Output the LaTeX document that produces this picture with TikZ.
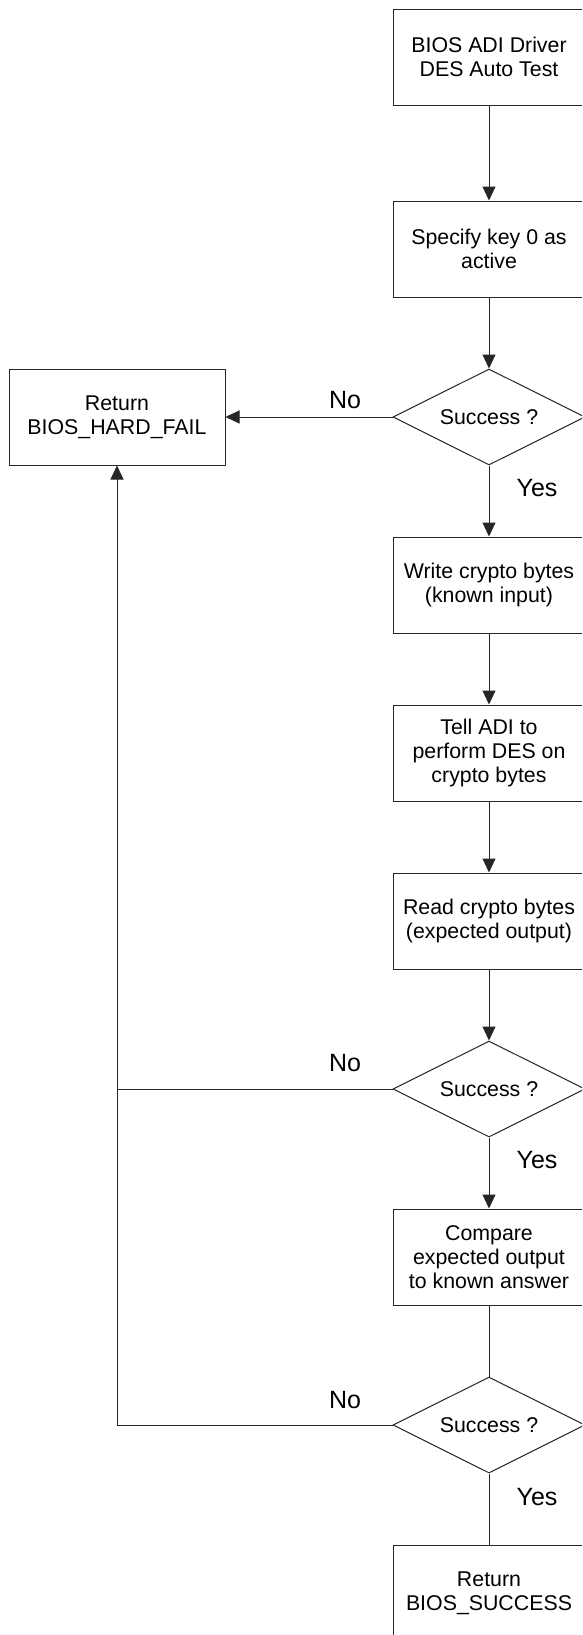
\documentclass[tikz,border=0pt]{standalone}
\usepackage{fontspec}
\setmainfont{Liberation Sans}
\usetikzlibrary{shapes.geometric,arrows.meta}

\tikzset{
  stepbox/.style={draw=black!85, line width=0.75pt, rectangle, inner sep=0pt,
    minimum width=144pt, minimum height=72pt, align=center,
    font=\fontsize{16}{18}\selectfont},
  decision/.style={draw=black!85, line width=0.75pt, diamond, aspect=2, inner sep=0pt,
    minimum width=144pt, minimum height=72pt, align=center,
    font=\fontsize{16}{18}\selectfont},
  branch/.style={font=\fontsize{18.75}{20}\selectfont, inner sep=0pt},
  flow/.style={draw=black!85, line width=0.75pt},
  arr/.style={flow, -{Triangle[length=10.5pt, width=9.75pt]}},
}

\begin{document}
\begin{tikzpicture}[x=0.75pt, y=-0.75pt]
  \clip (0,0) rectangle (582,1635);
  \fill[white] (0,0) rectangle (582,1635);

  % main column of steps
  \node[stepbox]  (b1) at (489,57)   {BIOS ADI Driver\\DES Auto Test};
  \node[stepbox]  (b2) at (489,249)  {Specify key 0 as\\active};
  \node[decision] (d1) at (489,417)  {Success ?};
  \node[stepbox]  (b3) at (489,585)  {Write crypto bytes\\(known input)};
  \node[stepbox]  (b4) at (489,753)  {Tell ADI to\\perform DES on\\crypto bytes};
  \node[stepbox]  (b5) at (489,921)  {Read crypto bytes\\(expected output)};
  \node[decision] (d2) at (489,1089) {Success ?};
  \node[stepbox]  (b6) at (489,1257) {Compare\\expected output\\to known answer};
  \node[decision] (d3) at (489,1425) {Success ?};
  \node[stepbox]  (b7) at (489,1593) {Return\\BIOS\_SUCCESS};

  % failure exit
  \node[stepbox, minimum width=162pt] (fail) at (117,417) {Return\\BIOS\_HARD\_FAIL};

  % branch labels
  \node[branch] (no1)  at (345,400)  {No};
  \node[branch] (no2)  at (345,1063) {No};
  \node[branch] (no3)  at (345,1400) {No};
  \node[branch] (yes1) at (537,488)  {Yes};
  \node[branch] (yes2) at (537,1160) {Yes};
  \node[branch] (yes3) at (537,1497) {Yes};

  % main flow
  \draw[arr] (b1) -- (b2);
  \draw[arr] (b2) -- (d1);
  \draw[arr] (d1) -- (b3);
  \draw[arr] (b3) -- (b4);
  \draw[arr] (b4) -- (b5);
  \draw[arr] (b5) -- (d2);
  \draw[arr] (d2) -- (b6);
  \draw[flow] (b6) -- (d3);
  \draw[flow] (d3) -- (b7);

  % failure paths
  \draw[arr] (d1.west) -- (fail.east);
  \coordinate (j2) at (fail.south |- d2.west);
  \coordinate (j3) at (fail.south |- d3.west);
  \draw[flow] (d2.west) -- (j2);
  \draw[flow] (d3.west) -- (j3);
  \draw[arr] (j3) -- (fail.south);
\end{tikzpicture}
\end{document}
